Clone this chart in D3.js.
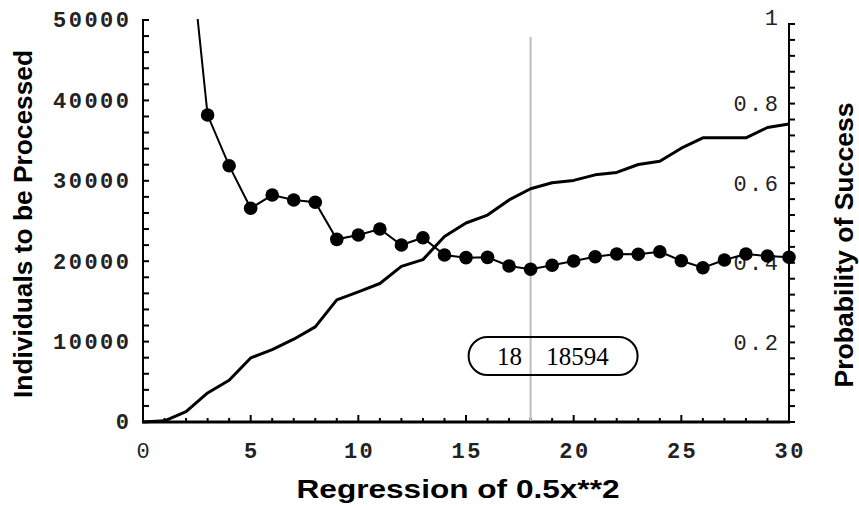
<!DOCTYPE html>
<html>
<head>
<meta charset="utf-8">
<script src="https://cdn.jsdelivr.net/npm/d3@7"></script>
<style>
  body { margin: 0; background: #fff; }
  svg { display: block; }
  .lbl { font-family: "Liberation Mono", monospace; font-size: 22px; letter-spacing: 2.5px; fill: #222; }
  .bold { font-weight: bold; }
  .title { font-family: "Liberation Sans", Arial, sans-serif; font-weight: bold; font-size: 26px; fill: #000; }
</style>
</head>
<body>
<svg width="859" height="506"></svg>
<script>
// Regression index (x axis)
var gens = [0, 1, 2, 3, 4, 5, 6, 7, 8, 9, 10, 11, 12, 13, 14, 15, 16, 17, 18, 19, 20,
            21, 22, 23, 24, 25, 26, 27, 28, 29, 30];

// Probability of success, right axis
var success = [0, 0.003, 0.026, 0.073, 0.105, 0.161, 0.182, 0.208, 0.239, 0.307, 0.327,
               0.348, 0.391, 0.408, 0.466, 0.5, 0.52, 0.558, 0.586, 0.601, 0.607,
               0.621, 0.627, 0.647, 0.655, 0.688, 0.714, 0.714, 0.714, 0.74, 0.749];

// Individuals to be processed, left axis (starts at x = 2, first value runs off the top)
var indivX = [2, 3, 4, 5, 6, 7, 8, 9, 10, 11, 12, 13, 14, 15, 16, 17, 18, 19, 20,
              21, 22, 23, 24, 25, 26, 27, 28, 29, 30];
var indiv = [64000, 38180, 31880, 26580, 28230, 27610, 27330, 22720, 23260, 24000, 22010,
             22920, 20770, 20440, 20480, 19400, 19000, 19490, 20020, 20560, 20900,
             20860, 21180, 20060, 19190, 20150, 20900, 20650, 20490];

var leftTicks = [0, 10000, 20000, 30000, 40000, 50000];
var rightTicks = [0.2, 0.4, 0.6, 0.8, 1];
var bottomTicks = [0, 5, 10, 15, 20, 25, 30];

// marker shown in the box
var markX = 18;
var markValue = 18594;

var svg = d3.select("svg");

var x = d3.scaleLinear().domain([0, 30]).range([143, 789]);
var yL = d3.scaleLinear().domain([0, 50000]).range([422, 20]);
var yR = d3.scaleLinear().domain([0, 1]).range([422, 24]);

var X0 = x.range()[0], X1 = x.range()[1], Y0 = yL.range()[0];

// axis lines
var axes = svg.append("g").attr("stroke", "#000").attr("fill", "none");
axes.append("path").attr("stroke-width", 2)
  .attr("d", "M" + (X0 + 6) + "," + yL(50000) + "H" + X0 + "V" + Y0);
axes.append("path").attr("stroke-width", 2)
  .attr("d", "M" + (X1 + 6) + "," + yR(1) + "H" + X1 + "V" + Y0);
axes.append("line").attr("stroke-width", 3)
  .attr("x1", X0 - 1).attr("x2", X1 + 1).attr("y1", Y0).attr("y2", Y0);

// left ticks, pointing into the plot
axes.selectAll(".tl")
  .data(d3.range(0, 50001, 2000))
  .enter().append("line")
    .attr("stroke-width", 2)
    .attr("x1", X0).attr("x2", X0 + 6)
    .attr("y1", function(d) { return yL(d); })
    .attr("y2", function(d) { return yL(d); });

// right ticks, pointing out
axes.selectAll(".tr")
  .data(d3.range(0, 1.001, 0.04))
  .enter().append("line")
    .attr("stroke-width", 2)
    .attr("x1", X1).attr("x2", X1 + 6)
    .attr("y1", function(d) { return yR(d); })
    .attr("y2", function(d) { return yR(d); });

// bottom ticks, pointing up
axes.selectAll(".tb")
  .data(d3.range(0, 31, 1))
  .enter().append("line")
    .attr("stroke-width", 2)
    .attr("x1", function(d) { return x(d); })
    .attr("x2", function(d) { return x(d); })
    .attr("y1", Y0)
    .attr("y2", function(d) { return d % 5 === 0 ? Y0 - 7 : Y0 - 4; });

// tick labels
svg.selectAll(".ll")
  .data(leftTicks)
  .enter().append("text")
    .attr("class", "lbl bold")
    .attr("x", X0 - 11.5)
    .attr("y", function(d) { return yL(d); })
    .attr("dy", "0.34em")
    .attr("text-anchor", "end")
    .text(d3.format("d"));

svg.selectAll(".rl")
  .data(rightTicks)
  .enter().append("text")
    .attr("class", "lbl")
    .attr("x", X1 - 8.5)
    .attr("y", function(d) { return yR(d); })
    .attr("dy", function(d) { return d === 1 ? "0.05em" : "0.34em"; })
    .attr("text-anchor", "end")
    .text(function(d) { return d === 1 ? "1" : d3.format(".1f")(d); });

svg.selectAll(".bl")
  .data(bottomTicks)
  .enter().append("text")
    .attr("class", function(d) { return d === 0 ? "lbl" : "lbl bold"; })
    .attr("x", function(d) { return x(d) + 1.25; })
    .attr("y", Y0 + 36)
    .attr("text-anchor", "middle")
    .text(d3.format("d"));

// vertical marker line
svg.append("line")
  .attr("x1", x(markX)).attr("x2", x(markX))
  .attr("y1", 37).attr("y2", Y0 - 1)
  .attr("stroke", "#bdbdbd").attr("stroke-width", 2);

// probability curve
svg.append("path")
  .datum(gens)
  .attr("fill", "none")
  .attr("stroke", "#000")
  .attr("stroke-width", 3)
  .attr("stroke-linejoin", "round")
  .attr("d", d3.line()
    .x(function(d) { return x(d); })
    .y(function(d, i) { return yR(success[i]); }));

// individuals curve, clipped at the top of the plot
svg.append("clipPath").attr("id", "plotClip")
  .append("rect").attr("x", 140).attr("y", 19).attr("width", 660).attr("height", 410);

var ind = svg.append("g").attr("clip-path", "url(#plotClip)");
ind.append("path")
  .datum(indivX)
  .attr("fill", "none")
  .attr("stroke", "#000")
  .attr("stroke-width", 2)
  .attr("d", d3.line()
    .x(function(d) { return x(d); })
    .y(function(d, i) { return yL(indiv[i]); }));

ind.selectAll("circle")
  .data(indivX.slice(1))
  .enter().append("circle")
    .attr("cx", function(d) { return x(d); })
    .attr("cy", function(d, i) { return yL(indiv[i + 1]); })
    .attr("r", 6.8)
    .attr("fill", "#000");

// value box
var bx = x(markX);
svg.append("rect")
  .attr("x", bx - 62).attr("y", 337)
  .attr("width", 169).attr("height", 38)
  .attr("rx", 19).attr("ry", 19)
  .attr("fill", "none").attr("stroke", "#000").attr("stroke-width", 2);

svg.append("text")
  .attr("x", bx - 21).attr("y", 365)
  .attr("text-anchor", "middle")
  .style("font-family", "'Liberation Serif', 'Times New Roman', serif")
  .style("font-size", "25px")
  .text(markX);

svg.append("text")
  .attr("x", bx + 47).attr("y", 365)
  .attr("text-anchor", "middle")
  .style("font-family", "'Liberation Serif', 'Times New Roman', serif")
  .style("font-size", "25px")
  .text(markValue);

// axis titles
svg.append("text")
  .attr("class", "title")
  .attr("transform", "translate(32,224) rotate(-90)")
  .attr("text-anchor", "middle")
  .attr("textLength", 348).attr("lengthAdjust", "spacingAndGlyphs")
  .text("Individuals to be Processed");

svg.append("text")
  .attr("class", "title")
  .attr("transform", "translate(853,245) rotate(-90)")
  .attr("text-anchor", "middle")
  .attr("textLength", 285).attr("lengthAdjust", "spacingAndGlyphs")
  .text("Probability of Success");

svg.append("text")
  .attr("class", "title")
  .attr("x", 458).attr("y", 498)
  .attr("text-anchor", "middle")
  .attr("textLength", 323).attr("lengthAdjust", "spacingAndGlyphs")
  .text("Regression of 0.5x**2");
</script>
</body>
</html>
